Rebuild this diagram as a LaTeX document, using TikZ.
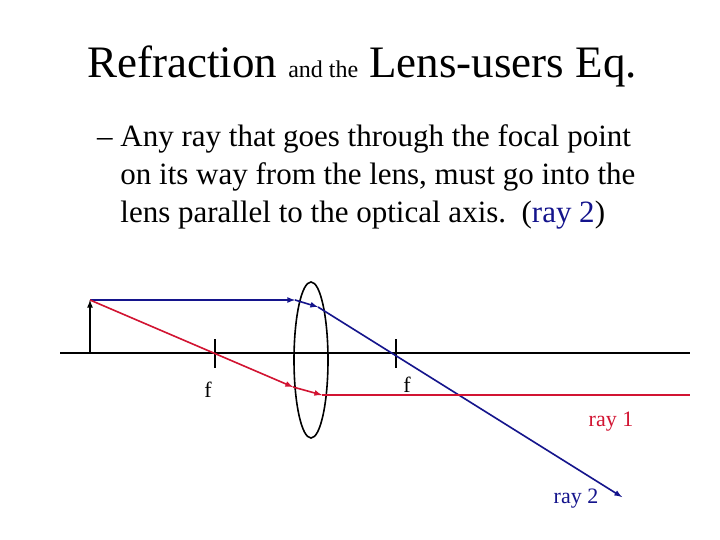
\documentclass[tikz,border=0pt]{standalone}
\usepackage{fontspec}
\usetikzlibrary{shapes.geometric}
\setmainfont{Liberation Serif}
\begin{document}
\begin{tikzpicture}[x=1bp,y=-1bp,
  ray/.style={line width=1.6bp,-latex},
  rblue/.style={ray,draw={rgb,255:red,20;green,20;blue,140}},
  rred/.style={ray,draw={rgb,255:red,210;green,20;blue,50}},
  lbl/.style={inner sep=0pt,font=\fontsize{22bp}{26bp}\selectfont}]
\useasboundingbox[fill=white] (0,0) rectangle (720,540);
\definecolor{rblueC}{RGB}{20,20,140}
\definecolor{rredC}{RGB}{210,20,50}
\node[inner sep=0pt,anchor=base] (title) at (362,78) {\fontsize{45bp}{50bp}\selectfont Refraction {\fontsize{24bp}{28bp}\selectfont and the} Lens-users Eq.};
\node[inner sep=0pt,anchor=north west,align=left,font=\fontsize{31bp}{38bp}\selectfont] (txt) at (97,124)
 {– Any ray that goes through the focal point\\
 \phantom{– }on its way from the lens, must go into the\\
 \phantom{– }lens parallel to the optical axis.\ \ (\textcolor{rblueC}{ray 2})};
\coordinate (a0) at (60,353); \coordinate (a1) at (690,353);
\draw[line width=1.6bp] (a0) -- (a1);
\coordinate (ob) at (90,353); \coordinate (ot) at (90,300);
\draw[line width=1.6bp,-latex] (ob) -- (ot);
\node[draw,line width=1.6bp,ellipse,minimum width=34bp,minimum height=156bp,inner sep=0pt] (lens) at (311,360) {};
\coordinate (t1a) at (215,339); \coordinate (t1b) at (215,368);
\coordinate (t2a) at (396,339); \coordinate (t2b) at (396,368);
\draw[line width=1.6bp] (t1a) -- (t1b) (t2a) -- (t2b);
\node[lbl] (f1) at (208,390) {f};
\node[lbl] (f2) at (407,385) {f};
\coordinate (b1) at (295,300); \coordinate (b2) at (318,307); \coordinate (b3) at (622,497);
\draw[rblue] (ot) -- (b1);
\draw[rblue] (b1) -- (b2);
\draw[rblue] (b2) -- (b3);
\coordinate (r1) at (293,387); \coordinate (r2) at (322,395); \coordinate (r3) at (690,395);
\draw[rred] (ot) -- (r1);
\draw[rred] (r1) -- (r2);
\draw[line width=2bp,draw=rredC] (r2) -- (r3);
\node[lbl,text=rredC] (ray1) at (611,422) {ray 1};
\node[lbl,text=rblueC] (ray2) at (576,499) {ray 2};
\end{tikzpicture}
\end{document}
